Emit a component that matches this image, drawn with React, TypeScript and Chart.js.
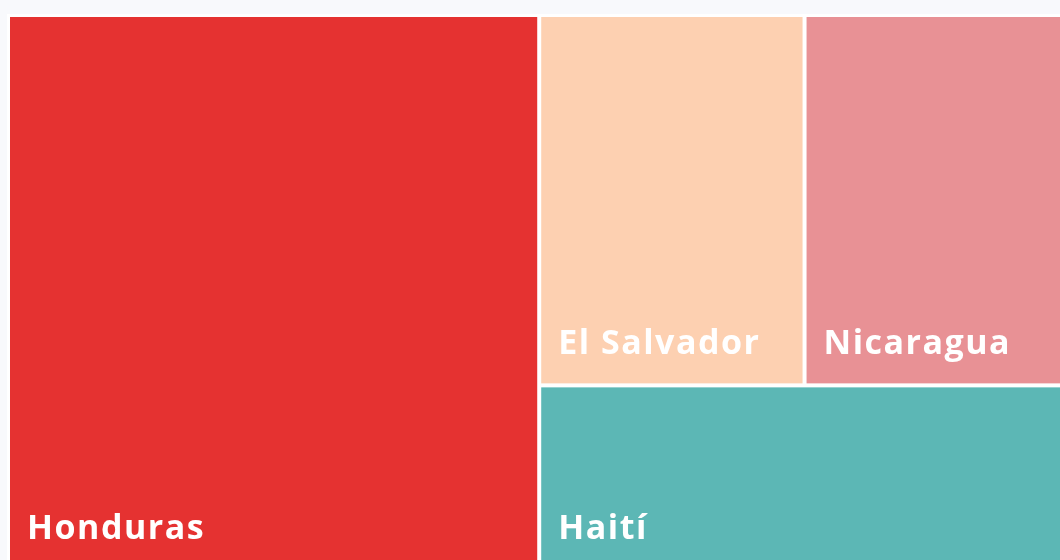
import React, { useEffect, useRef } from "react";
import { Chart, registerables } from "chart.js";

Chart.register(...registerables);

const categories = ["Honduras", "El Salvador", "Nicaragua", "Haití"];
const values = [50.4, 16.8, 16.3, 16.5];
const colors = ["#e53231", "#fdd0b1", "#e89195", "#5cb7b5"];

const AREA_W = 1054;
const AREA_H = 555;

type Rect = { x: number; y: number; w: number; h: number; i: number };

function worst(row: number[], side: number): number {
  const s = row.reduce((a, b) => a + b, 0);
  let w = 0;
  for (const r of row) {
    const len = s / side;
    const other = r / len;
    w = Math.max(w, Math.max(len / other, other / len));
  }
  return w;
}

function squarify(vals: number[], x: number, y: number, w: number, h: number): Rect[] {
  const total = vals.reduce((a, b) => a + b, 0);
  const areas = vals.map((v) => (v / total) * w * h);
  const out: Rect[] = [];
  let idx = 0;
  let cx = x, cy = y, cw = w, ch = h;
  while (idx < areas.length) {
    const side = Math.min(cw, ch);
    const row: number[] = [areas[idx]];
    let j = idx + 1;
    while (j < areas.length) {
      const next = [...row, areas[j]];
      if (worst(next, side) <= worst(row, side)) {
        row.push(areas[j]);
        j++;
      } else break;
    }
    const s = row.reduce((a, b) => a + b, 0);
    if (cw >= ch) {
      const colW = s / ch;
      let yy = cy;
      row.forEach((a, k) => {
        const hh = a / colW;
        out.push({ x: cx, y: yy, w: colW, h: hh, i: idx + k });
        yy += hh;
      });
      cx += colW;
      cw -= colW;
    } else {
      const rowH = s / cw;
      let xx = cx;
      row.forEach((a, k) => {
        const ww = a / rowH;
        out.push({ x: xx, y: cy, w: ww, h: rowH, i: idx + k });
        xx += ww;
      });
      cy += rowH;
      ch -= rowH;
    }
    idx = j;
  }
  return out;
}

const treemapPlugin = {
  id: "treemapCells",
  afterDatasetsDraw(chart: any) {
    const ctx = chart.ctx as CanvasRenderingContext2D;
    const xs = chart.scales.x;
    const ys = chart.scales.y;
    const rects = squarify(values, 0, 0, AREA_W, AREA_H);
    ctx.save();
    for (const r of rects) {
      const x0 = xs.getPixelForValue(r.x);
      const x1 = xs.getPixelForValue(r.x + r.w);
      const y0 = ys.getPixelForValue(r.y);
      const y1 = ys.getPixelForValue(r.y + r.h);
      ctx.fillStyle = "#ffffff";
      ctx.fillRect(x0, y0, x1 - x0, y1 - y0);
      ctx.fillStyle = colors[r.i];
      ctx.fillRect(x0 + 2, y0 + 2, x1 - x0 - 4, y1 - y0 - 4);
      ctx.fillStyle = "#ffffff";
      ctx.font = "700 34px 'Open Sans', sans-serif";
      (ctx as any).letterSpacing = "1.5px";
      ctx.textBaseline = "alphabetic";
      ctx.textAlign = "left";
      ctx.fillText(categories[r.i], x0 + 19, y1 - 31);
    }
    ctx.restore();
  },
};

export default function App() {
  const ref = useRef<HTMLCanvasElement | null>(null);
  useEffect(() => {
    document.body.style.margin = "0";
    document.body.style.background = "#f8f9fc";
    document.body.style.overflow = "hidden";
    if (!ref.current) return;
    const chart = new Chart(ref.current, {
      type: "scatter",
      data: { datasets: [{ data: [], label: "cells" }] },
      options: {
        animation: false,
        responsive: false,
        layout: { padding: 0 },
        scales: {
          x: { type: "linear", min: 0, max: AREA_W, display: false },
          y: { type: "linear", min: 0, max: AREA_H, reverse: true, display: false },
        },
        plugins: { legend: { display: false }, tooltip: { enabled: false } },
      },
      plugins: [treemapPlugin],
    });
    return () => chart.destroy();
  }, []);
  return (
    <div
      style={{
        position: "absolute",
        left: 7,
        top: 14,
        width: AREA_W + 2,
        height: AREA_H + 2,
        background: "#ffffff",
        padding: 1,
        boxSizing: "border-box",
      }}
    >
      <canvas
        ref={ref}
        width={AREA_W}
        height={AREA_H}
        style={{ display: "block", width: AREA_W, height: AREA_H }}
      />
    </div>
  );
}
